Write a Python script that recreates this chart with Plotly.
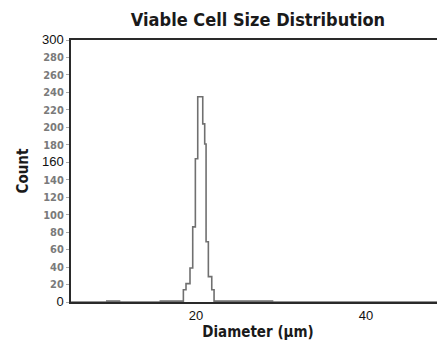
import plotly.graph_objects as go

# Histogram bin edges (µm) and counts per bin
bin_edges = [5.3, 9.5, 10.0, 11.0, 15.8, 16.5, 17.8, 18.51, 18.82, 19.29, 19.61,
             19.92, 20.2, 20.79, 21.02, 21.18, 21.45, 21.85, 22.12, 23.0, 25.0,
             27.0, 29.0, 49.3]
counts = [0, 1, 1, 0, 1, 1, 1, 14, 21, 39, 86, 164, 235, 204, 181, 69, 29, 14,
          1, 1, 1, 1, 0]

y_tickvals = [0, 20, 40, 60, 80, 100, 120, 140, 160, 180, 200, 220, 240, 260, 280, 300]
y_black = [0, 160, 300]
x_tickvals = [20, 40]

title_font = "Liberation Sans Narrow, DejaVu Sans Condensed, Arial Narrow, sans-serif"
black_style = "font-family:Liberation Sans, Arial, sans-serif;font-size:13px;color:#111;font-weight:normal"

def ylabel(v):
    if v in y_black:
        return f"<span style='{black_style}'>{v}</span>"
    return f"<b>{v}</b>"

# step outline: repeat last count so the final edge is closed
xs = bin_edges
ys = counts + [counts[-1]]

fig = go.Figure()
fig.add_trace(go.Scatter(x=xs, y=ys, mode="lines", line_shape="hv",
                         line=dict(color="#707070", width=1.6),
                         hoverinfo="skip", showlegend=False))

# page body has an 8px margin, so the figure is 8px smaller than the window
W, H = 437, 335
fig.update_layout(
    width=W, height=H,
    margin=dict(l=63, r=0, t=32, b=41),
    paper_bgcolor="white", plot_bgcolor="white",
    title=dict(text="<b>Viable Cell Size Distribution</b>", x=0.5, xref="paper",
               y=1 - 12 / H, yanchor="middle",
               font=dict(family=title_font, size=18, color="#1a1a1a")),
    xaxis=dict(range=[5.29, 49.29], tickvals=x_tickvals,
               ticktext=[f"<span style='{black_style}'>{v}</span>" for v in x_tickvals],
               showgrid=False, zeroline=False, showline=True, mirror=True,
               linecolor="#2a2a2a", linewidth=2, ticks="", ticklen=0,
               tickfont=dict(family="Liberation Sans, Arial", size=13, color="#111"),
               title=dict(text="<b>Diameter (µm)</b>", standoff=2,
                          font=dict(family=title_font, size=15, color="#1a1a1a"))),
    yaxis=dict(range=[0, 300], tickvals=y_tickvals,
               ticktext=[ylabel(v) for v in y_tickvals],
               showgrid=False, zeroline=False, showline=True, mirror=False,
               linecolor="#2a2a2a", linewidth=2, ticks="outside", ticklen=3,
               tickcolor="#aaaaaa", tickwidth=1,
               tickfont=dict(family=title_font, size=11, color="#7a7a7a"),
               title=dict(text="<b>Count</b>", standoff=10,
                          font=dict(family=title_font, size=15, color="#1a1a1a"))),
)

fig.write_html("out.html")
